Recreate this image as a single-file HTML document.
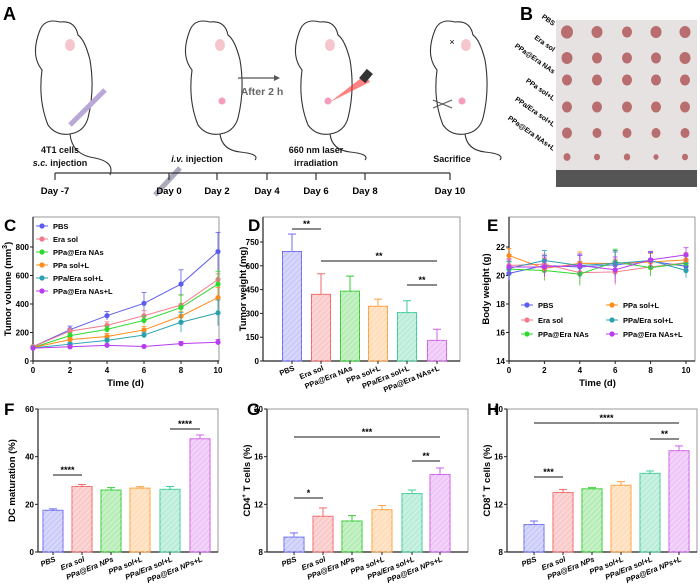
<!DOCTYPE html>
<html><head><meta charset="utf-8"><style>
body{margin:0;background:#fff}
svg{display:block;font-family:"Liberation Sans",Arial,sans-serif}
.b{font-weight:bold}
</style></head><body>
<svg id="fig" width="700" height="588" viewBox="0 0 700 588" xmlns="http://www.w3.org/2000/svg">
<defs>
<pattern id="hatch" width="4" height="4" patternUnits="userSpaceOnUse" patternTransform="rotate(45)"><line x1="0" y1="0" x2="0" y2="4" stroke="#fff" stroke-width="1.2"/></pattern>
</defs>
<g id="panelA">
<text x="3" y="20" font-size="18" class="b">A</text>
<g fill="none" stroke="#333" stroke-width="1.1">
<path d="M40 30 Q45 18 60 22 Q75 20 78 35 Q85 40 90 60 Q95 90 88 118 Q84 132 70 134 Q56 136 48 125 Q38 100 42 70 Q30 55 40 30Z"/>
<path d="M70 134 Q72 155 95 158 Q115 162 110 175" />
<path d="M190 30 Q195 18 210 22 Q225 20 228 35 Q235 40 240 60 Q245 90 238 118 Q234 132 220 134 Q206 136 198 125 Q188 100 192 70 Q180 55 190 30Z"/>
<path d="M220 134 Q222 150 240 152 Q260 154 255 160"/>
<path d="M300 30 Q305 18 320 22 Q335 20 338 35 Q345 40 350 60 Q355 90 348 118 Q344 132 330 134 Q316 136 308 125 Q298 100 302 70 Q290 55 300 30Z"/>
<path d="M330 134 Q332 150 350 152 Q370 154 365 160"/>
<path d="M435 30 Q440 18 455 22 Q470 20 473 35 Q480 40 485 60 Q490 90 483 118 Q479 132 465 134 Q451 136 443 125 Q433 100 437 70 Q425 55 435 30Z"/>
<path d="M465 134 Q467 150 485 152 Q505 154 500 160"/>
</g>
<g fill="#f7c6cc"><ellipse cx="70" cy="45" rx="5" ry="6"/><ellipse cx="220" cy="45" rx="5" ry="6"/><ellipse cx="330" cy="45" rx="5" ry="6"/><ellipse cx="466" cy="45" rx="5" ry="6"/></g>
<g fill="#f59bbb"><circle cx="222" cy="101" r="3.5"/><circle cx="328" cy="101" r="3.5"/><circle cx="462" cy="101" r="3.5"/></g>
<line x1="70" y1="125" x2="105" y2="90" stroke="#b9a8d6" stroke-width="5"/>
<line x1="155" y1="195" x2="180" y2="168" stroke="#aab" stroke-width="5"/>
<path d="M330 102 L365 75 L370 82Z" fill="#ff3030" opacity="0.6"/>
<rect x="362" y="70" width="8" height="12" fill="#333" transform="rotate(40 366 76)"/>
<text x="452" y="45" font-size="9" text-anchor="middle">×</text>
<path d="M433 100 L452 108 M433 108 L452 100" stroke="#555" fill="none"/>
<line x1="238" y1="78" x2="278" y2="78" stroke="#555" stroke-width="1.2"/><path d="M280 78 L274 75 L274 81Z" fill="#555"/>
<text x="262" y="95" font-size="10.5" class="b" fill="#666" text-anchor="middle">After 2 h</text>
<g font-size="9" class="b" text-anchor="middle" fill="#111">
<text x="60" y="153">4T1 cells</text><text x="60" y="166"><tspan font-style="italic">s.c.</tspan> injection</text>
<text x="197" y="162"><tspan font-style="italic">i.v.</tspan> injection</text>
<text x="316" y="153">660 nm laser</text><text x="316" y="166">irradiation</text>
<text x="452" y="162">Sacrifice</text>
</g>
<line x1="55" y1="173" x2="450" y2="173" stroke="#333" stroke-width="1.3"/>
<g id="timeTicks"></g>
</g>
<g id="panelB">
<text x="520" y="20" font-size="18" class="b">B</text>
<rect x="556" y="20" width="141" height="167" fill="#e6e2e1"/>
<rect x="556" y="170" width="141" height="17" fill="#555"/>
<g id="tumors"></g>
<g font-size="7" class="b" text-anchor="end" id="bLabels"></g>
</g>
<g id="charts"></g>
</svg>
<script>
const NS="http://www.w3.org/2000/svg";
function mk(tag,attrs,parent,txt){const e=document.createElementNS(NS,tag);for(const k in attrs)e.setAttribute(k,attrs[k]);if(txt!==undefined)e.textContent=txt;(parent||document.getElementById('charts')).appendChild(e);return e;}
// timeline
const timeDays=["Day -7","Day 0","Day 2","Day 4","Day 6","Day 8","Day 10"];
const timeX=[55,169,217,267,316,365,450];
const tt=document.getElementById('timeTicks');
timeDays.forEach((d,i)=>{mk('line',{x1:timeX[i],x2:timeX[i],y1:173,y2:180,stroke:'#333','stroke-width':1.2},tt);
const t=mk('text',{x:timeX[i],y:194,'font-size':9.5,'font-weight':'bold','text-anchor':'middle'},tt,d);
});
// tumors photo
const tumorRows=["PBS","Era sol","PPa@Era NAs","PPa sol+L","PPa/Era sol+L","PPa@Era NAs+L"];
const tumorSize=[[6,5.5,5,5.5,5.5],[5.5,5,5,5,5.5],[5,5,5,5,5],[5,5,5,5,5],[5,4.5,4.5,4.5,4.5],[3.5,3,3.2,2.6,3]];
const rowY=[32,58,80,107,133,157];const colX=[567,597,627,656,685];
const tg=document.getElementById('tumors'),bl=document.getElementById('bLabels');
tumorRows.forEach((r,i)=>{colX.forEach((x,j)=>{const c=mk('ellipse',{cx:x,cy:rowY[i],rx:tumorSize[i][j],ry:tumorSize[i][j]*1.1,fill:'#b86e6e'},tg);});
const t=mk('text',{x:553,y:rowY[i]-6,transform:`rotate(35 553 ${rowY[i]-6})`},bl,r);});

const groups=["PBS","Era sol","PPa@Era NAs","PPa sol+L","PPa/Era sol+L","PPa@Era NAs+L"];
const groupsNP=["PBS","Era sol","PPa@Era NPs","PPa sol+L","PPa/Era sol+L","PPa@Era NPs+L"];
const colors=["#5b5bf0","#f07a8c","#2fd82f","#ff8c1a","#2aa0b0","#b83cf0"];
const barColors=["#6f6ff0","#f26a6a","#35cc35","#ffa040","#40cc99","#d060ea"];
const days=[0,2,4,6,8,10];
// C: tumor volume
const volPBS=[100,220,318,405,540,768],volEra=[100,210,250,318,392,572],volNAs=[95,178,222,285,375,540],volPPaL=[95,150,172,218,315,445],volPPaEraL=[92,118,145,182,272,338],volNAsL=[90,100,110,102,122,132];
const volErr=[[10,25,30,75,100,135],[8,20,25,35,70,40],[8,18,22,30,90,90],[8,15,20,25,30,70],[6,12,15,20,70,90],[5,10,10,8,15,20]];
const volTicks=[0,200,400,600,800];
// D
const weightVals=[690,420,440,345,305,130],weightErr=[110,130,95,45,75,70],weightTicks=[0,150,300,450,600,750];
// E
const bwPBS=[20.15,20.7,20.6,20.75,21.0,20.65],bwEra=[20.7,20.8,20.2,20.25,20.6,20.9],bwNAs=[20.45,20.35,20.1,20.95,20.55,20.85],bwPPaL=[21.4,20.5,20.85,20.85,20.95,21.1],bwPPaEraL=[20.5,21.05,20.7,20.85,21.05,20.35],bwNAsL=[20.6,20.6,20.7,20.4,21.1,21.45];
const bwErr=[0.5,0.7,0.8,0.9,0.6,0.5],bwTicks=[14,16,18,20,22];
// F,G,H
const dcVals=[17.5,27.5,26,26.8,26.3,47.5],dcErr=[0.6,0.8,1,0.6,1.2,1.6],dcTicks=[0,20,40,60];
const cd4Vals=[9.25,11,10.6,11.55,12.9,14.5],cd4Err=[0.35,0.7,0.45,0.35,0.3,0.55],cdTicks=[8,12,16,20];
const cd8Vals=[10.3,13,13.3,13.6,14.6,16.5],cd8Err=[0.3,0.25,0.1,0.3,0.2,0.4];

function axes(o){ // o: x0,x1,y0,y1,ymin,ymax,ticks,ylabel,name
 const g=mk('g',{});
 const sy=v=>o.y0-(v-o.ymin)/(o.ymax-o.ymin)*(o.y0-o.yTop);
 mk('rect',{x:o.x0,y:o.frameTop,width:o.x1-o.x0,height:o.y0-o.frameTop,fill:'none',stroke:'#999','stroke-width':1},g);
 mk('line',{x1:o.x0,y1:o.frameTop,x2:o.x0,y2:o.y0,stroke:'#222','stroke-width':1.2},g);
 mk('line',{x1:o.x0,y1:o.y0,x2:o.x1,y2:o.y0,stroke:'#222','stroke-width':1.2},g);
 o.ticks.forEach(t=>{mk('line',{x1:o.x0-3,x2:o.x0,y1:sy(t),y2:sy(t),stroke:'#222'},g);
  const l=mk('text',{x:o.x0-4,y:sy(t)+3,'font-size':8,'font-weight':'bold','text-anchor':'end'},g,t);});
 const yl=mk('text',{x:o.yLabX,y:(o.y0+o.frameTop)/2,'font-size':9.5,'font-weight':'bold','text-anchor':'middle',transform:`rotate(-90 ${o.yLabX} ${(o.y0+o.frameTop)/2})`},g);
 yl.innerHTML=o.ylabel;
 mk('text',{x:o.lx,y:o.ly,'font-size':17,'font-weight':'bold'},g,o.letter);
 return {g,sy};
}
function lineChart(o,series,errs,legendPos){
 const a=axes(o);const g=a.g;const sx=v=>o.x0+(v)/10*(o.xEnd-o.x0);
 days.forEach(d=>{mk('line',{x1:sx(d),x2:sx(d),y1:o.y0,y2:o.y0+3,stroke:'#222'},g);
  const l=mk('text',{x:sx(d),y:o.y0+12,'font-size':8,'font-weight':'bold','text-anchor':'middle'},g,d);});
 const xt=mk('text',{x:(o.x0+o.xEnd)/2,y:o.y0+25,'font-size':9.5,'font-weight':'bold','text-anchor':'middle'},g,'Time (d)');
 series.forEach((s,i)=>{
  const pts=s.map((v,j)=>sx(days[j])+','+a.sy(v)).join(' ');
  const pl=mk('polyline',{points:pts,fill:'none',stroke:colors[i],'stroke-width':1},g);
  
  
  s.forEach((v,j)=>{const e=Array.isArray(errs[0])?errs[i][j]:errs[j];
   mk('line',{x1:sx(days[j]),x2:sx(days[j]),y1:a.sy(v-e),y2:a.sy(v+e),stroke:colors[i],'stroke-width':0.8},g);
   mk('line',{x1:sx(days[j])-2.5,x2:sx(days[j])+2.5,y1:a.sy(v+e),y2:a.sy(v+e),stroke:colors[i],'stroke-width':0.8},g);
   const p=mk('circle',{cx:sx(days[j]),cy:a.sy(v),r:2.6,fill:colors[i]},g);
   
   });
 });
 legendPos.forEach((lp,i)=>{mk('line',{x1:lp[0]-6,x2:lp[0]+6,y1:lp[1],y2:lp[1],stroke:colors[i]},g);mk('circle',{cx:lp[0],cy:lp[1],r:2.6,fill:colors[i]},g);
  const t=mk('text',{x:lp[0]+11,y:lp[1]+3,'font-size':7.5,'font-weight':'bold'},g,groups[i]);
  
  });
}
function barChart(o,vals,errs,labels,sig){
 const a=axes(o);const g=a.g;
 vals.forEach((v,i)=>{const cx=o.bx[i],w=o.bw;
  const r=mk('rect',{x:cx-w/2,y:a.sy(v),width:w,height:o.y0-a.sy(v),fill:barColors[i],'fill-opacity':0.35,stroke:barColors[i],'stroke-width':1},g);
  
  
  mk('rect',{x:cx-w/2,y:a.sy(v),width:w,height:o.y0-a.sy(v),fill:'url(#hatch)',opacity:0.6},g);
  mk('line',{x1:cx,x2:cx,y1:a.sy(v),y2:a.sy(v+errs[i]),stroke:barColors[i]},g);
  mk('line',{x1:cx-4,x2:cx+4,y1:a.sy(v+errs[i]),y2:a.sy(v+errs[i]),stroke:barColors[i]},g);
  mk('line',{x1:cx,x2:cx,y1:o.y0,y2:o.y0+3,stroke:'#222'},g);
  const l=mk('text',{x:cx+3,y:o.y0+9,'font-size':7.5,'font-weight':'bold','font-style':o.italic?'italic':'normal','text-anchor':'end',transform:`rotate(-22 ${cx+3} ${o.y0+9})`},g,labels[i]);
  
 });
 sig.forEach(s=>{mk('line',{x1:o.bx[s[0]],x2:o.bx[s[1]],y1:s[2],y2:s[2],stroke:'#444','stroke-width':1.2},g);
  const t=mk('text',{x:(o.bx[s[0]]+o.bx[s[1]])/2,y:s[2]-2,'font-size':9,'font-weight':'bold','text-anchor':'middle'},g,s[3]);
  
  });
}
lineChart({name:'tumor-volume-chart',x0:33,x1:219,xEnd:218,y0:361,yTop:247,frameTop:217,ymin:0,ymax:800,ticks:volTicks,ylabel:'Tumor volume (mm<tspan dy="-4" font-size="7">3</tspan><tspan dy="4">)</tspan>',yLabX:11,letter:'C',lx:4,ly:231},
 [volPBS,volEra,volNAs,volPPaL,volPPaEraL,volNAsL],volErr,[[42,226],[42,239],[42,252],[42,265],[42,278],[42,291]]);
barChart({name:'tumor-weight-chart',x0:263,x1:460,y0:361,yTop:242,frameTop:217,ymin:0,ymax:750,ticks:weightTicks,ylabel:'Tumor weight (mg)',yLabX:246,letter:'D',lx:248,ly:231,bx:[292,321,350,378,407,437],bw:19},
 weightVals,weightErr,groups,[[0,1,229,'**'],[1,5,261,'**'],[4,5,285,'**']]);
lineChart({name:'body-weight-chart',x0:509,x1:695,xEnd:686,y0:361,yTop:247,frameTop:217,ymin:14,ymax:22,ticks:bwTicks,ylabel:'Body weight (g)',yLabX:489,letter:'E',lx:487,ly:231},
 [bwPBS,bwEra,bwNAs,bwPPaL,bwPPaEraL,bwNAsL],bwErr,[[527,305],[527,320],[527,334],[612,305],[612,320],[612,334]]);
barChart({name:'dc-maturation-chart',x0:38,x1:218,y0:552,yTop:409,frameTop:409,ymin:0,ymax:60,ticks:dcTicks,ylabel:'DC maturation (%)',yLabX:15,letter:'F',lx:4,ly:415,bx:[53,82,111,140,170,200],bw:20,italic:true},
 dcVals,dcErr,groupsNP,[[0,1,475,'****'],[4,5,429,'****']]);
barChart({name:'cd4-t-cells-chart',x0:267,x1:468,y0:552,yTop:409,frameTop:409,ymin:8,ymax:20,ticks:cdTicks,ylabel:'CD4<tspan dy="-4" font-size="6">+</tspan><tspan dy="4"> T cells (%)</tspan>',yLabX:250,letter:'G',lx:247,ly:415,bx:[294,323,352,382,412,440],bw:20,italic:true},
 cd4Vals,cd4Err,groupsNP,[[0,1,498,'*'],[0,5,437,'***'],[4,5,461,'**']]);
barChart({name:'cd8-t-cells-chart',x0:507,x1:697,y0:552,yTop:409,frameTop:409,ymin:8,ymax:20,ticks:cdTicks,ylabel:'CD8<tspan dy="-4" font-size="6">+</tspan><tspan dy="4"> T cells (%)</tspan>',yLabX:490,letter:'H',lx:487,ly:415,bx:[534,563,592,621,650,679],bw:20,italic:true},
 cd8Vals,cd8Err,groupsNP,[[0,1,477,'***'],[0,5,423,'****'],[4,5,439,'**']]);
</script>
</body></html>
